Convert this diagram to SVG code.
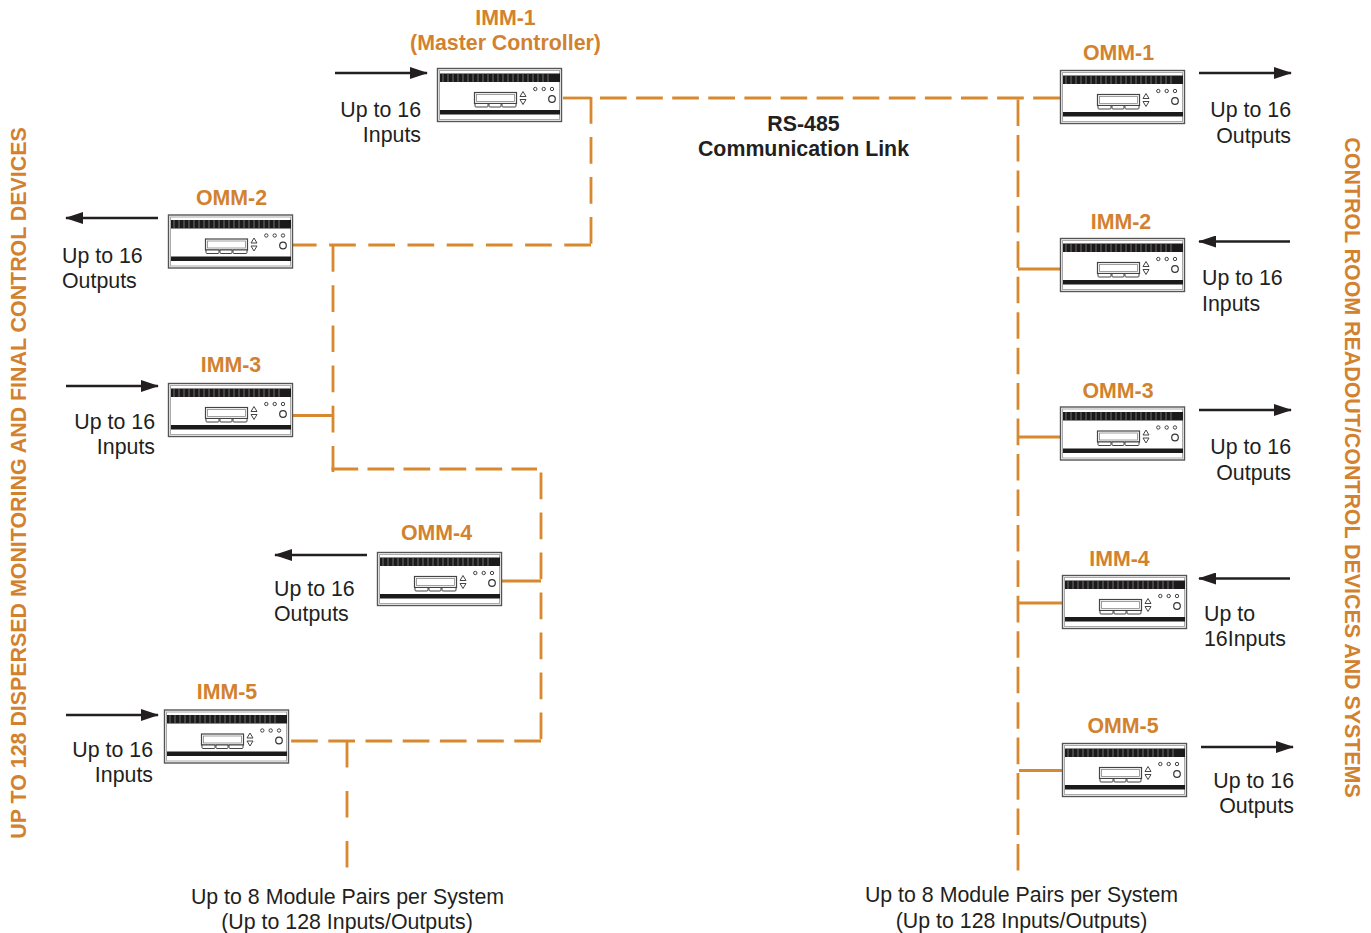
<svg xmlns="http://www.w3.org/2000/svg" width="1371" height="933" viewBox="0 0 1371 933">
<style>
text{font-family:"Liberation Sans",Arial,sans-serif;font-size:21.35px;fill:#231f20}
.n{font-weight:bold;fill:#d2822e;text-anchor:middle}
.b{font-weight:bold}
.s{font-weight:bold;fill:#d2822e;text-anchor:middle;font-size:21.4px}
.e{text-anchor:end}
.m{text-anchor:middle}
.c{fill:none;stroke:#d8892f;stroke-width:2.8}
.a{fill:none;stroke:#231f20;stroke-width:2.4}
</style>
<defs>
<marker id="ah" markerUnits="userSpaceOnUse" markerWidth="18" markerHeight="12" refX="17" refY="6" orient="auto"><path d="M0 0L18 6L0 12Z" fill="#231f20"/></marker>
<g id="mod">
<rect x=".5" y=".5" width="124" height="53" fill="#fff" stroke="#555" stroke-width="1.4"/>
<rect x="2.5" y="2.5" width="120" height="49" fill="none" stroke="#aaa" stroke-width="1"/>
<rect x="3" y="5.5" width="120" height="8.500" fill="#1c1a1b"/>
<path d="M6 5.500V14M11 5.500V14M16 5.500V14M21 5.500V14M26 5.500V14M31 5.500V14M36 5.500V14M41 5.500V14M46 5.500V14M51 5.500V14M56 5.500V14M61 5.500V14M66 5.500V14M71 5.500V14M76 5.500V14M81 5.500V14M86 5.500V14M91 5.500V14M96 5.500V14M101 5.500V14M106 5.500V14M111 5.500V14" stroke="#888" stroke-width=".8"/>
<rect x="3" y="42" width="120" height="4.500" fill="#1c1a1b"/>
<rect x="37.500" y="24.500" width="42" height="11" fill="#fff" stroke="#444" stroke-width="1.200"/>
<rect x="39.500" y="26.500" width="38" height="7" fill="#fff" stroke="#888" stroke-width=".8"/>
<path d="M38 35.500h13v2.500q0 1-1 1h-11q-1 0-1-1ZM52 35.500h12v2.500q0 1-1 1h-10q-1 0-1-1ZM65 35.500h14v2.500q0 1-1 1h-12q-1 0-1-1Z" fill="#fff" stroke="#444" stroke-width="1"/>
<path d="M83 28.500L86 23.500L89 28.500ZM83 31.500L86 36.500L89 31.500Z" fill="#fff" stroke="#444" stroke-width="1"/>
<circle cx="98.300" cy="21" r="1.700" fill="#fff" stroke="#444"/>
<circle cx="106.700" cy="21" r="1.700" fill="#fff" stroke="#444"/>
<circle cx="115" cy="21" r="1.700" fill="#fff" stroke="#444"/>
<circle cx="115" cy="31" r="3.300" fill="#fff" stroke="#333" stroke-width="1.200"/>
</g>
</defs>
<g id="connectors">
<path class="c" d="M563 98H591"/>
<path class="c" stroke-dasharray="26.700 13.300" d="M591 97V245"/>
<path class="c" stroke-dasharray="26.700 12.500" d="M591 245H291"/>
<path class="c" stroke-dasharray="26.700 9.400" d="M600 98H1060"/>
<path class="c" stroke-dasharray="26.600 8.850" d="M1018 99.500V872"/>
<path class="c" d="M1018 269H1060M1018 437H1060M1018 603H1062M1019 770.500H1062"/>
<path class="c" stroke-dasharray="26.700 13.500" d="M333 245V472"/>
<path class="c" stroke-dasharray="26.700 9.300" d="M331.500 469H537"/>
<path class="c" stroke-dasharray="26.700 13.300" d="M541 472.500V741"/>
<path class="c" stroke-dasharray="26.700 10.500" d="M541 741H291"/>
<path class="c" d="M293 415.500H333M501 581H541"/>
<path class="c" stroke-dasharray="26.500 23.500" d="M347 741V870"/>
<path class="a" marker-end="url(#ah)" d="M335 73H427"/>
<path class="a" marker-end="url(#ah)" d="M1199 73H1291"/>
<path class="a" marker-end="url(#ah)" d="M158 218H66"/>
<path class="a" marker-end="url(#ah)" d="M66 386H158"/>
<path class="a" marker-end="url(#ah)" d="M367 555H275"/>
<path class="a" marker-end="url(#ah)" d="M66 715H158"/>
<path class="a" marker-end="url(#ah)" d="M1290 241.500H1199"/>
<path class="a" marker-end="url(#ah)" d="M1199 410H1291"/>
<path class="a" marker-end="url(#ah)" d="M1290 578.500H1199"/>
<path class="a" marker-end="url(#ah)" d="M1201 747H1293"/>
</g>
<g id="imm-1"><use href="#mod" x="437" y="68"/><text class="n" x="505.500" y="25">IMM-1</text><text class="n" x="505.500" y="50">(Master Controller)</text><text class="e" x="421" y="117">Up to 16</text><text class="e" x="421" y="142">Inputs</text></g>
<g id="omm-1"><use href="#mod" x="1060" y="70"/><text class="n" x="1118.500" y="60">OMM-1</text><text class="e" x="1291" y="117">Up to 16</text><text class="e" x="1291" y="143">Outputs</text></g>
<g id="imm-2"><use href="#mod" x="1060" y="238"/><text class="n" x="1121" y="229">IMM-2</text><text x="1202" y="285">Up to 16</text><text x="1202" y="311">Inputs</text></g>
<g id="omm-3"><use href="#mod" x="1060" y="406.500"/><text class="n" x="1118" y="398">OMM-3</text><text class="e" x="1291" y="454">Up to 16</text><text class="e" x="1291" y="480">Outputs</text></g>
<g id="imm-4"><use href="#mod" x="1062" y="575"/><text class="n" x="1119.500" y="566">IMM-4</text><text x="1204" y="621">Up to</text><text x="1204" y="646">16Inputs</text></g>
<g id="omm-5"><use href="#mod" x="1062" y="743"/><text class="n" x="1123" y="733">OMM-5</text><text class="e" x="1294" y="788">Up to 16</text><text class="e" x="1294" y="813">Outputs</text></g>
<g id="omm-2"><use href="#mod" x="168" y="214.500"/><text class="n" x="231.500" y="205">OMM-2</text><text x="62" y="263">Up to 16</text><text x="62" y="288">Outputs</text></g>
<g id="imm-3"><use href="#mod" x="168" y="383"/><text class="n" x="231" y="372">IMM-3</text><text class="e" x="155" y="429">Up to 16</text><text class="e" x="155" y="454">Inputs</text></g>
<g id="omm-4"><use href="#mod" x="377" y="552"/><text class="n" x="436.500" y="540">OMM-4</text><text x="274" y="596">Up to 16</text><text x="274" y="621">Outputs</text></g>
<g id="imm-5"><use href="#mod" x="164" y="709.500"/><text class="n" x="227" y="699">IMM-5</text><text class="e" x="153" y="757">Up to 16</text><text class="e" x="153" y="782">Inputs</text></g>
<g id="labels">
<text class="b m" x="803.500" y="131">RS-485</text>
<text class="b m" x="803.500" y="156">Communication Link</text>
<text class="m" x="347.500" y="904">Up to 8 Module Pairs per System</text>
<text class="m" x="347" y="929">(Up to 128 Inputs/Outputs)</text>
<text class="m" x="1021.500" y="902">Up to 8 Module Pairs per System</text>
<text class="m" x="1021.500" y="928">(Up to 128 Inputs/Outputs)</text>
<text class="s" transform="translate(26 483) rotate(-90)">UP TO 128 DISPERSED MONITORING AND FINAL CONTROL DEVICES</text>
<text class="s" transform="translate(1345 467.500) rotate(90)">CONTROL ROOM READOUT/CONTROL DEVICES AND SYSTEMS</text>
</g>
</svg>
